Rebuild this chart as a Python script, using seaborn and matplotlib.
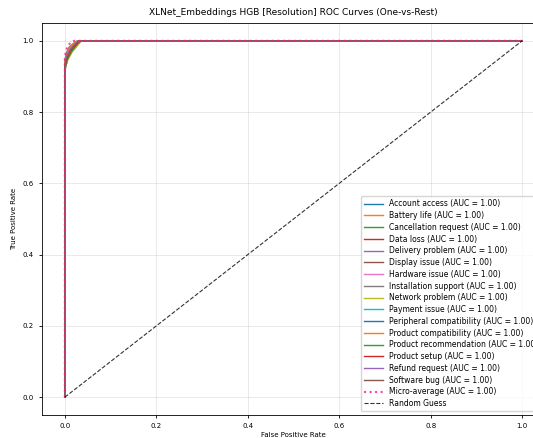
import matplotlib
matplotlib.use("Agg")
import matplotlib.pyplot as plt
import seaborn as sb
import pandas as pd

classes = ["Account access", "Battery life", "Cancellation request", "Data loss",
           "Delivery problem", "Display issue", "Hardware issue", "Installation support",
           "Network problem", "Payment issue", "Peripheral compatibility",
           "Product compatibility", "Product recommendation", "Product setup",
           "Refund request", "Software bug"]
auc = [1.00] * len(classes)

# rough ROC points (all curves hug the top-left corner)
fpr = [
    [0, 0, 0.004, 0.012, 0.022, 0.030, 1.0],
    [0, 0, 0.005, 0.013, 0.024, 0.033, 1.0],
    [0, 0, 0.003, 0.010, 0.020, 0.028, 1.0],
    [0, 0, 0.006, 0.014, 0.025, 0.034, 1.0],
    [0, 0, 0.005, 0.015, 0.026, 0.036, 1.0],
    [0, 0, 0.004, 0.011, 0.021, 0.030, 1.0],
    [0, 0, 0.005, 0.012, 0.023, 0.032, 1.0],
    [0, 0, 0.003, 0.009, 0.019, 0.027, 1.0],
    [0, 0, 0.006, 0.016, 0.027, 0.035, 1.0],
    [0, 0, 0.004, 0.012, 0.022, 0.031, 1.0],
    [0, 0, 0.005, 0.013, 0.024, 0.033, 1.0],
    [0, 0, 0.004, 0.010, 0.020, 0.029, 1.0],
    [0, 0, 0.006, 0.015, 0.025, 0.034, 1.0],
    [0, 0, 0.005, 0.014, 0.024, 0.032, 1.0],
    [0, 0, 0.004, 0.012, 0.021, 0.030, 1.0],
    [0, 0, 0.005, 0.013, 0.023, 0.031, 1.0],
]
tpr = [
    [0, 0.930, 0.955, 0.975, 0.990, 1.0, 1.0],
    [0, 0.925, 0.950, 0.972, 0.988, 1.0, 1.0],
    [0, 0.940, 0.962, 0.980, 0.992, 1.0, 1.0],
    [0, 0.920, 0.948, 0.970, 0.986, 1.0, 1.0],
    [0, 0.915, 0.945, 0.968, 0.985, 1.0, 1.0],
    [0, 0.935, 0.958, 0.978, 0.991, 1.0, 1.0],
    [0, 0.928, 0.952, 0.974, 0.989, 1.0, 1.0],
    [0, 0.945, 0.965, 0.982, 0.993, 1.0, 1.0],
    [0, 0.918, 0.946, 0.969, 0.986, 1.0, 1.0],
    [0, 0.932, 0.956, 0.976, 0.990, 1.0, 1.0],
    [0, 0.926, 0.951, 0.973, 0.988, 1.0, 1.0],
    [0, 0.938, 0.960, 0.979, 0.992, 1.0, 1.0],
    [0, 0.922, 0.949, 0.971, 0.987, 1.0, 1.0],
    [0, 0.927, 0.953, 0.974, 0.989, 1.0, 1.0],
    [0, 0.934, 0.957, 0.977, 0.990, 1.0, 1.0],
    [0, 0.930, 0.954, 0.975, 0.990, 1.0, 1.0],
]
micro_fpr = [0, 0, 0.002, 0.006, 0.012, 0.020, 1.0]
micro_tpr = [0, 0.950, 0.970, 0.985, 0.994, 1.0, 1.0]
micro_auc = 1.00

fig = plt.figure(figsize=(5.33, 4.38), dpi=100)
ax = fig.add_axes([42 / 533, 23 / 438, 503 / 533, 392 / 438])

colors = plt.rcParams['axes.prop_cycle'].by_key()['color']
for i, name in enumerate(classes):
    df = pd.DataFrame({"fpr": fpr[i], "tpr": tpr[i]})
    sb.lineplot(data=df, x="fpr", y="tpr", ax=ax, sort=False, estimator=None,
                color=colors[i % 10], lw=1,
                label=f"{name} (AUC = {auc[i]:.2f})")

dm = pd.DataFrame({"fpr": micro_fpr, "tpr": micro_tpr})
sb.lineplot(data=dm, x="fpr", y="tpr", ax=ax, sort=False, estimator=None,
            color="deeppink", linestyle=":", lw=1.5, alpha=0.8,
            label=f"Micro-average (AUC = {micro_auc:.2f})")
ax.plot([0, 1], [0, 1], "k--", lw=0.8, alpha=0.8, label="Random Guess")

ax.set_xlim(-0.05, 1.05)
ax.set_ylim(-0.05, 1.05)
ax.set_xlabel("False Positive Rate", fontsize=5, labelpad=2)
ax.set_ylabel("True Positive Rate", fontsize=5)
ax.set_title("XLNet_Embeddings HGB [Resolution] ROC Curves (One-vs-Rest)", fontsize=6.5)
ax.tick_params(labelsize=5, length=2.5, width=0.6)
for s in ax.spines.values():
    s.set_linewidth(0.6)
ax.grid(True, alpha=0.3, lw=0.6)
ax.legend(loc="lower right", fontsize=5.5, labelspacing=0.36, handlelength=2.5)

fig.savefig("out.png", dpi=100)
